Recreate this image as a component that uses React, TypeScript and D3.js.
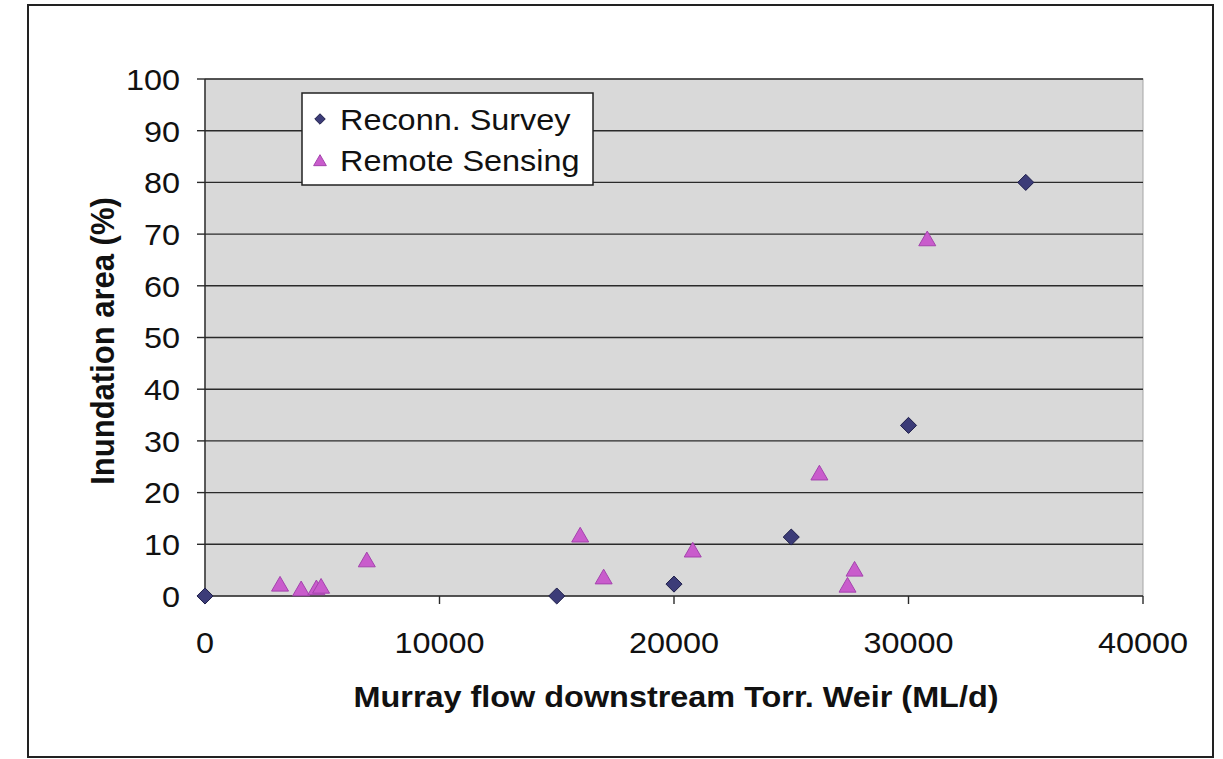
import React from "react";
import * as d3 from "d3";

// Murray flow (ML/d) vs inundated area (%)
const surveyFlow = [0, 15000, 20000, 25000, 30000, 35000];
const surveyArea = [0, 0, 2.3, 11.4, 33, 80];

const sensingFlow = [3200, 4100, 4750, 4950, 6900, 16000, 17000, 20800, 26200, 27400, 27700, 30800];
const sensingArea = [1.7, 0.8, 1.0, 1.3, 6.4, 11.2, 3.1, 8.3, 23.2, 1.5, 4.6, 68.5];

const xTicks = [0, 10000, 20000, 30000, 40000];
const yTicks = [0, 10, 20, 30, 40, 50, 60, 70, 80, 90, 100];

const seriesNames = ["Reconn. Survey", "Remote Sensing"];

const W = 1223;
const H = 759;
const plot = { left: 205, right: 1143, top: 79, bottom: 596 };
const FONT = "'Liberation Sans', Arial, sans-serif";
// glyphs are drawn slightly wide
const SX = 1.08;

export default function App() {
  const x = d3.scaleLinear().domain([0, 40000]).range([plot.left, plot.right]);
  const y = d3.scaleLinear().domain([0, 100]).range([plot.bottom, plot.top]);

  const diamond = d3.symbol().type(d3.symbolDiamond2).size(165)() as string;
  const triangle = d3.symbol().type(d3.symbolTriangle).size(125)() as string;
  const legendDiamond = d3.symbol().type(d3.symbolDiamond2).size(70)() as string;
  const legendTriangle = d3.symbol().type(d3.symbolTriangle).size(70)() as string;

  const survFill = "#3c3c78";
  const survStroke = "#1f1f4a";
  const sensFill = "#c95ccc";
  const sensStroke = "#a443ad";

  return (
    <svg
      width={W}
      height={H}
      style={{ position: "fixed", left: 0, top: 0, background: "#fff" }}
      fontFamily={FONT}
    >
      <rect x={0} y={0} width={W} height={H} fill="#fff" />
      {/* chart frame */}
      <rect x={28} y={5} width={1185} height={752} fill="#fff" stroke="#222" strokeWidth={2} />

      {/* plot area */}
      <rect
        x={plot.left}
        y={plot.top}
        width={plot.right - plot.left}
        height={plot.bottom - plot.top}
        fill="#d9d9d9"
        stroke="#a5a5a5"
        strokeWidth={1}
      />

      {/* gridlines */}
      {yTicks.map((t) => (
        <line
          key={"g" + t}
          x1={plot.left}
          x2={plot.right}
          y1={y(t)}
          y2={y(t)}
          stroke="#2a2a2a"
          strokeWidth={1.4}
        />
      ))}

      {/* y axis */}
      <line x1={plot.left} x2={plot.left} y1={plot.top} y2={plot.bottom} stroke="#2a2a2a" strokeWidth={1.4} />
      {yTicks.map((t) => (
        <g key={"y" + t}>
          <line x1={plot.left - 8} x2={plot.left} y1={y(t)} y2={y(t)} stroke="#2a2a2a" strokeWidth={1.4} />
          <text
            transform={`translate(180, ${y(t)}) scale(${SX}, 1)`}
            dy="0.36em"
            textAnchor="end"
            fontSize={30}
            fill="#111"
          >
            {t}
          </text>
        </g>
      ))}

      {/* x axis */}
      {xTicks.map((t) => (
        <g key={"x" + t}>
          <line x1={x(t)} x2={x(t)} y1={plot.bottom} y2={plot.bottom + 8} stroke="#2a2a2a" strokeWidth={1.4} />
          <text
            transform={`translate(${x(t)}, 653) scale(${SX}, 1)`}
            textAnchor="middle"
            fontSize={30}
            fill="#111"
          >
            {t}
          </text>
        </g>
      ))}

      {/* axis titles */}
      <text
        transform={`translate(${(plot.left + plot.right) / 2 + 2}, 707) scale(${SX}, 1)`}
        textAnchor="middle"
        fontSize={30}
        fontWeight="bold"
        fill="#111"
      >
        Murray flow downstream Torr. Weir (ML/d)
      </text>
      <text
        transform={`translate(114, 341) scale(${SX}, 1) rotate(-90)`}
        textAnchor="middle"
        fontSize={31}
        fontWeight="bold"
        fill="#111"
      >
        Inundation area (%)
      </text>

      {/* remote sensing points */}
      {sensingFlow.map((f, i) => (
        <path
          key={"s" + i}
          d={triangle}
          transform={`translate(${x(f)}, ${y(sensingArea[i]) - 1})`}
          fill={sensFill}
          stroke={sensStroke}
          strokeWidth={1}
        />
      ))}

      {/* survey points */}
      {surveyFlow.map((f, i) => (
        <path
          key={"r" + i}
          d={diamond}
          transform={`translate(${x(f)}, ${y(surveyArea[i])})`}
          fill={survFill}
          stroke={survStroke}
          strokeWidth={1}
        />
      ))}

      {/* legend */}
      <rect x={302} y={93} width={291} height={92} fill="#fff" stroke="#222" strokeWidth={1.5} />
      <path d={legendDiamond} transform="translate(320, 119)" fill={survFill} stroke={survStroke} strokeWidth={1} />
      <text transform={`translate(340, 119) scale(${SX}, 1)`} dy="0.36em" fontSize={30} fill="#111">
        {seriesNames[0]}
      </text>
      <path d={legendTriangle} transform="translate(320, 162)" fill={sensFill} stroke={sensStroke} strokeWidth={1} />
      <text transform={`translate(340, 160) scale(${SX}, 1)`} dy="0.36em" fontSize={30} fill="#111">
        {seriesNames[1]}
      </text>
    </svg>
  );
}
